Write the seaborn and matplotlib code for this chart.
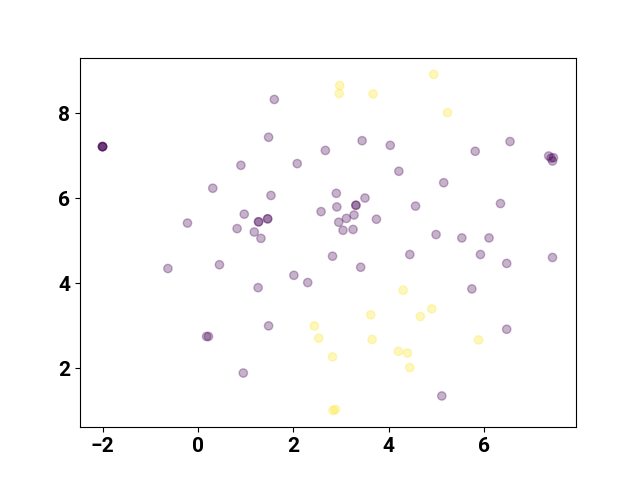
import pandas as pd
import seaborn as sns
import matplotlib.pyplot as plt

# class 0 (purple) points
x_class0 = [-2.0, -2.0, -2.0, -2.0, 0.90, 0.31, 0.97, -0.22, 0.82, 1.60, 1.48, 3.44, 4.03, 2.67,
            2.08, 4.21, 1.53, 2.90, 3.50, 3.31, 3.31, 2.91, 2.58, 3.74, 3.27, 3.11, 2.95,
            1.27, 1.27, 1.46, 1.46, 1.18, 1.32, 3.04, 3.25, 6.54, 5.81, 7.35, 7.45, 7.43, 7.40,
            5.15, 4.56, 6.34, 4.99, 5.53, 6.10, -0.63, 0.45, 0.18, 0.22, 0.95, 2.82, 3.41,
            4.44, 2.01, 2.30, 1.26, 1.48, 5.92, 6.47, 7.43, 5.74, 6.47, 5.11]
y_class0 = [7.22, 7.22, 7.22, 7.22, 6.78, 6.24, 5.63, 5.42, 5.29, 8.33, 7.44, 7.36, 7.25, 7.13,
            6.82, 6.64, 6.07, 6.12, 6.01, 5.84, 5.84, 5.80, 5.69, 5.51, 5.61, 5.53, 5.44,
            5.45, 5.45, 5.52, 5.52, 5.21, 5.06, 5.25, 5.27, 7.34, 7.11, 7.00, 6.96, 6.88, 6.95,
            6.37, 5.82, 5.88, 5.15, 5.07, 5.07, 4.35, 4.44, 2.75, 2.75, 1.89, 4.64, 4.38,
            4.68, 4.19, 4.02, 3.90, 3.00, 4.68, 4.47, 4.61, 3.87, 2.92, 1.35]

# class 1 (yellow) points
x_class1 = [2.97, 2.96, 3.67, 4.94, 5.23, 4.30, 3.62, 2.44, 2.53, 3.65, 2.82, 4.20, 4.39,
            4.44, 2.83, 2.88, 4.90, 4.66, 5.88]
y_class1 = [8.66, 8.47, 8.46, 8.92, 8.02, 3.84, 3.26, 3.00, 2.71, 2.68, 2.27, 2.40, 2.36,
            2.02, 1.01, 1.03, 3.40, 3.22, 2.67]

df = pd.DataFrame({
    'x': x_class0 + x_class1,
    'y': y_class0 + y_class1,
    'label': [0] * len(x_class0) + [1] * len(x_class1),
})

plt.rcParams['font.family'] = ['Roboto', 'DejaVu Sans']

fig, ax = plt.subplots(figsize=(6.4, 4.8), dpi=100)
sns.scatterplot(data=df, x='x', y='y', hue='label',
                palette={0: '#440154', 1: '#fde725'}, alpha=0.3,
                s=36, edgecolor='face', linewidth=1.0, legend=False, ax=ax)
ax.set_xlabel('')
ax.set_ylabel('')
ax.set_xticks([-2, 0, 2, 4, 6])
ax.set_yticks([2, 4, 6, 8])
for lbl in ax.get_xticklabels() + ax.get_yticklabels():
    lbl.set_fontsize(15)
    lbl.set_fontweight('bold')

plt.savefig('out.png', dpi=100)
plt.close()
